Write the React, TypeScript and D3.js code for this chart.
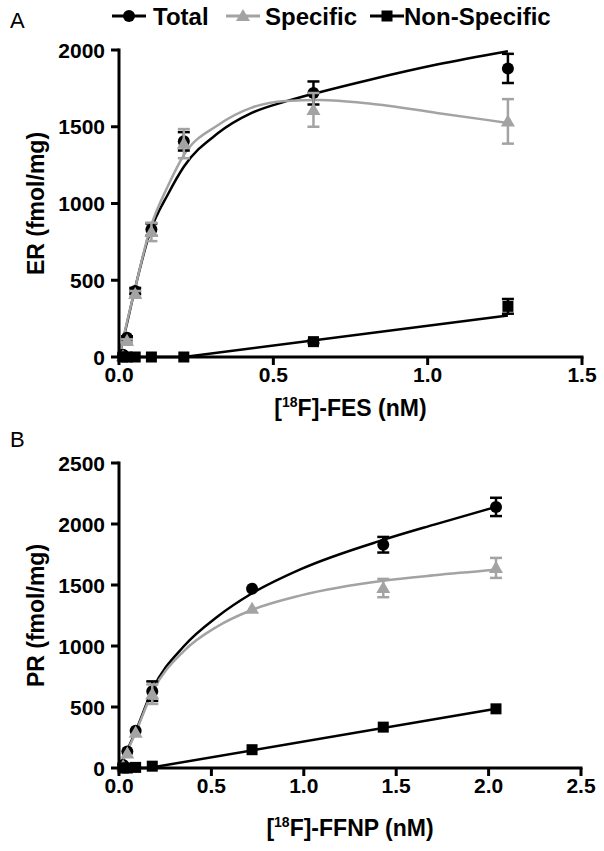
import React from "react";
import * as d3 from "d3";

// ---------- Panel A data ([18F]-FES, ER) ----------
const concA = [0.013, 0.026, 0.0525, 0.105, 0.21, 0.63, 1.26];
const totalA = [15, 125, 430, 830, 1405, 1720, 1880];
const totalErrA = [0, 10, 20, 40, 60, 75, 95];
const specA = [5, 105, 410, 815, 1390, 1610, 1535];
const specErrA = [0, 10, 20, 60, 95, 110, 145];
const nsA = [0, 0, 0, 0, 0, 100, 330];
const nsErrA = [0, 0, 0, 0, 0, 10, 48];

const fitTotalXA = [0, 0.026, 0.05, 0.1, 0.16, 0.21, 0.32, 0.43, 0.54, 0.65, 0.81, 1.03, 1.26];
const fitTotalYA = [0, 220, 430, 810, 1065, 1239, 1457, 1590, 1665, 1725, 1805, 1905, 1992];
const fitSpecXA = [0, 0.026, 0.05, 0.1, 0.16, 0.21, 0.32, 0.43, 0.54, 0.65, 0.81, 1.03, 1.26];
const fitSpecYA = [0, 230, 430, 830, 1120, 1315, 1510, 1625, 1668, 1675, 1652, 1590, 1525];
const fitNsXA = [0, 0.21, 1.26];
const fitNsYA = [0, 0, 270];

const xTicksA = [0, 0.5, 1.0, 1.5];
const yTicksA = [0, 500, 1000, 1500, 2000];

// ---------- Panel B data ([18F]-FFNP, PR) ----------
const concB = [0.0225, 0.045, 0.09, 0.18, 0.72, 1.43, 2.04];
const totalB = [25, 135, 305, 630, 1470, 1830, 2140];
const totalErrB = [0, 0, 0, 80, 0, 64, 75];
const specB = [15, 120, 290, 605, 1305, 1475, 1640];
const specErrB = [0, 0, 0, 80, 0, 75, 82];
const nsB = [0, 0, 5, 15, 150, 335, 485];
const nsErrB = [0, 0, 0, 0, 0, 0, 0];

const fitTotalXB = [0, 0.045, 0.09, 0.18, 0.352, 0.532, 0.718, 0.984, 1.43, 1.706, 2.04];
const fitTotalYB = [0, 150, 300, 640, 1000, 1240, 1430, 1630, 1870, 1995, 2140];
const fitSpecXB = [0, 0.045, 0.09, 0.18, 0.352, 0.532, 0.718, 0.984, 1.43, 1.706, 2.04];
const fitSpecYB = [0, 140, 290, 620, 960, 1160, 1295, 1415, 1535, 1580, 1625];
const fitNsXB = [0, 0.16, 2.04];
const fitNsYB = [0, 0, 485];

const xTicksB = [0, 0.5, 1.0, 1.5, 2.0, 2.5];
const yTicksB = [0, 500, 1000, 1500, 2000, 2500];

const seriesNames = ["Total", "Specific", "Non-Specific"];

const BLACK = "#000000";
const GRAY = "#a3a3a3";
const FONT = "'Liberation Sans', Arial, sans-serif";

type SymType = "circle" | "triangle" | "square";

function Marker({ x, y, type, color }: { x: number; y: number; type: SymType; color: string }) {
  if (type === "circle") return <circle cx={x} cy={y} r={6} fill={color} />;
  if (type === "square") return <rect x={x - 5.5} y={y - 5.5} width={11} height={11} fill={color} />;
  const p = d3.symbol().type(d3.symbolTriangle).size(85)();
  return <path d={p || ""} transform={`translate(${x},${y + 1})`} fill={color} />;
}

type Series = {
  xs: number[];
  ys: number[];
  errs: number[];
  fx: number[];
  fy: number[];
  color: string;
  sym: SymType;
  lw: number;
  smooth: boolean;
};

function Panel(props: {
  left: number;
  right: number;
  y0: number;
  yTop: number;
  xMax: number;
  yMax: number;
  xTicks: number[];
  yTicks: number[];
  xTitle: string;
  yTitle: string;
  titleY: number;
  series: Series[];
}) {
  const { left, right, y0, yTop, xMax, yMax, xTicks, yTicks, xTitle, yTitle, titleY, series } = props;
  const x = d3.scaleLinear().domain([0, xMax]).range([left, right]);
  const y = d3.scaleLinear().domain([0, yMax]).range([y0, yTop]);
  const mk = (smooth: boolean) =>
    d3
      .line<[number, number]>()
      .x((d) => x(d[0]))
      .y((d) => y(d[1]))
      .curve(smooth ? d3.curveMonotoneX : d3.curveLinear);
  const fmt = d3.format(".1f");
  return (
    <g>
      {series.map((s, i) => (
        <path
          key={"f" + i}
          d={mk(s.smooth)(s.fx.map((v, j) => [v, s.fy[j]] as [number, number])) || ""}
          fill="none"
          stroke={s.color}
          strokeWidth={s.lw}
        />
      ))}
      {series.map((s, i) => (
        <g key={"p" + i}>
          {s.xs.map((v, j) => {
            const cx = x(v);
            const cy = y(s.ys[j]);
            const e = s.errs[j];
            return (
              <g key={j}>
                {e > 0 && (
                  <g stroke={s.color} strokeWidth={2.5}>
                    <line x1={cx} x2={cx} y1={y(s.ys[j] - e)} y2={y(s.ys[j] + e)} />
                    <line x1={cx - 6} x2={cx + 6} y1={y(s.ys[j] - e)} y2={y(s.ys[j] - e)} />
                    <line x1={cx - 6} x2={cx + 6} y1={y(s.ys[j] + e)} y2={y(s.ys[j] + e)} />
                  </g>
                )}
                <Marker x={cx} y={cy} type={s.sym} color={s.color} />
              </g>
            );
          })}
        </g>
      ))}
      {/* axes */}
      <g stroke={BLACK} strokeWidth={3}>
        <line x1={left} x2={left} y1={y0 + 1.5} y2={y(yMax) - 1.5} />
        <line x1={left - 1.5} x2={right + 1.5} y1={y0} y2={y0} />
        {yTicks.map((t) => (
          <line key={"yt" + t} x1={left - 8} x2={left} y1={y(t)} y2={y(t)} />
        ))}
        {xTicks.map((t) => (
          <line key={"xt" + t} x1={x(t)} x2={x(t)} y1={y0} y2={y0 + 8} />
        ))}
      </g>
      <g fontFamily={FONT} fontWeight="bold" fontSize={21} fill={BLACK}>
        {yTicks.map((t) => (
          <text key={"yl" + t} x={left - 14} y={y(t)} dy="0.36em" textAnchor="end">
            {t}
          </text>
        ))}
        {xTicks.map((t) => (
          <text key={"xl" + t} x={x(t)} y={y0 + 25} textAnchor="middle">
            {fmt(t)}
          </text>
        ))}
      </g>
      <g fontFamily={FONT} fontWeight="bold" fontSize={23} fill={BLACK}>
        <text x={(left + right) / 2} y={titleY} textAnchor="middle">
          [<tspan fontSize={14} dy={-9}>18</tspan>
          <tspan dy={9}>F]-{xTitle} (nM)</tspan>
        </text>
        <text
          transform={`translate(${44},${(y0 + yTop) / 2}) rotate(-90)`}
          textAnchor="middle"
        >
          {yTitle}
        </text>
      </g>
    </g>
  );
}

export default function App() {
  const legendSyms: SymType[] = ["circle", "triangle", "square"];
  const legendColors = [BLACK, GRAY, BLACK];
  const legendLineX = [112, 226, 370];
  const legendTextX = [153, 265, 404];
  const seriesA: Series[] = [
    { xs: concA, ys: totalA, errs: totalErrA, fx: fitTotalXA, fy: fitTotalYA, color: BLACK, sym: "circle", lw: 2.5, smooth: true },
    { xs: concA, ys: specA, errs: specErrA, fx: fitSpecXA, fy: fitSpecYA, color: GRAY, sym: "triangle", lw: 2.5, smooth: true },
    { xs: concA, ys: nsA, errs: nsErrA, fx: fitNsXA, fy: fitNsYA, color: BLACK, sym: "square", lw: 2.5, smooth: false },
  ];
  const seriesB: Series[] = [
    { xs: concB, ys: totalB, errs: totalErrB, fx: fitTotalXB, fy: fitTotalYB, color: BLACK, sym: "circle", lw: 2.5, smooth: true },
    { xs: concB, ys: specB, errs: specErrB, fx: fitSpecXB, fy: fitSpecYB, color: GRAY, sym: "triangle", lw: 2.5, smooth: true },
    { xs: concB, ys: nsB, errs: nsErrB, fx: fitNsXB, fy: fitNsYB, color: BLACK, sym: "square", lw: 2.5, smooth: false },
  ];
  return (
    <svg
      width={604}
      height={851}
      style={{ position: "absolute", left: 0, top: 0, background: "#fff" }}
    >
      <rect width={604} height={851} fill="#fff" />
      <g fontFamily={FONT} fontSize={22} fill={BLACK}>
        <text x={10} y={28}>A</text>
        <text x={10} y={447}>B</text>
      </g>
      {/* legend */}
      <g>
        {seriesNames.map((n, i) => (
          <g key={n}>
            <line
              x1={legendLineX[i]}
              x2={legendLineX[i] + 34}
              y1={16}
              y2={16}
              stroke={legendColors[i]}
              strokeWidth={3}
            />
            <Marker x={legendLineX[i] + 17} y={16} type={legendSyms[i]} color={legendColors[i]} />
            <text
              x={legendTextX[i]}
              y={24.5}
              fontFamily={FONT}
              fontWeight="bold"
              fontSize={24}
              fill={BLACK}
            >
              {n}
            </text>
          </g>
        ))}
      </g>
      <Panel
        left={119}
        right={582}
        y0={357}
        yTop={50}
        xMax={1.5}
        yMax={2000}
        xTicks={xTicksA}
        yTicks={yTicksA}
        xTitle="FES"
        yTitle="ER (fmol/mg)"
        titleY={416}
        series={seriesA}
      />
      <Panel
        left={119}
        right={581}
        y0={768}
        yTop={463}
        xMax={2.5}
        yMax={2500}
        xTicks={xTicksB}
        yTicks={yTicksB}
        xTitle="FFNP"
        yTitle="PR (fmol/mg)"
        titleY={836}
        series={seriesB}
      />
    </svg>
  );
}
